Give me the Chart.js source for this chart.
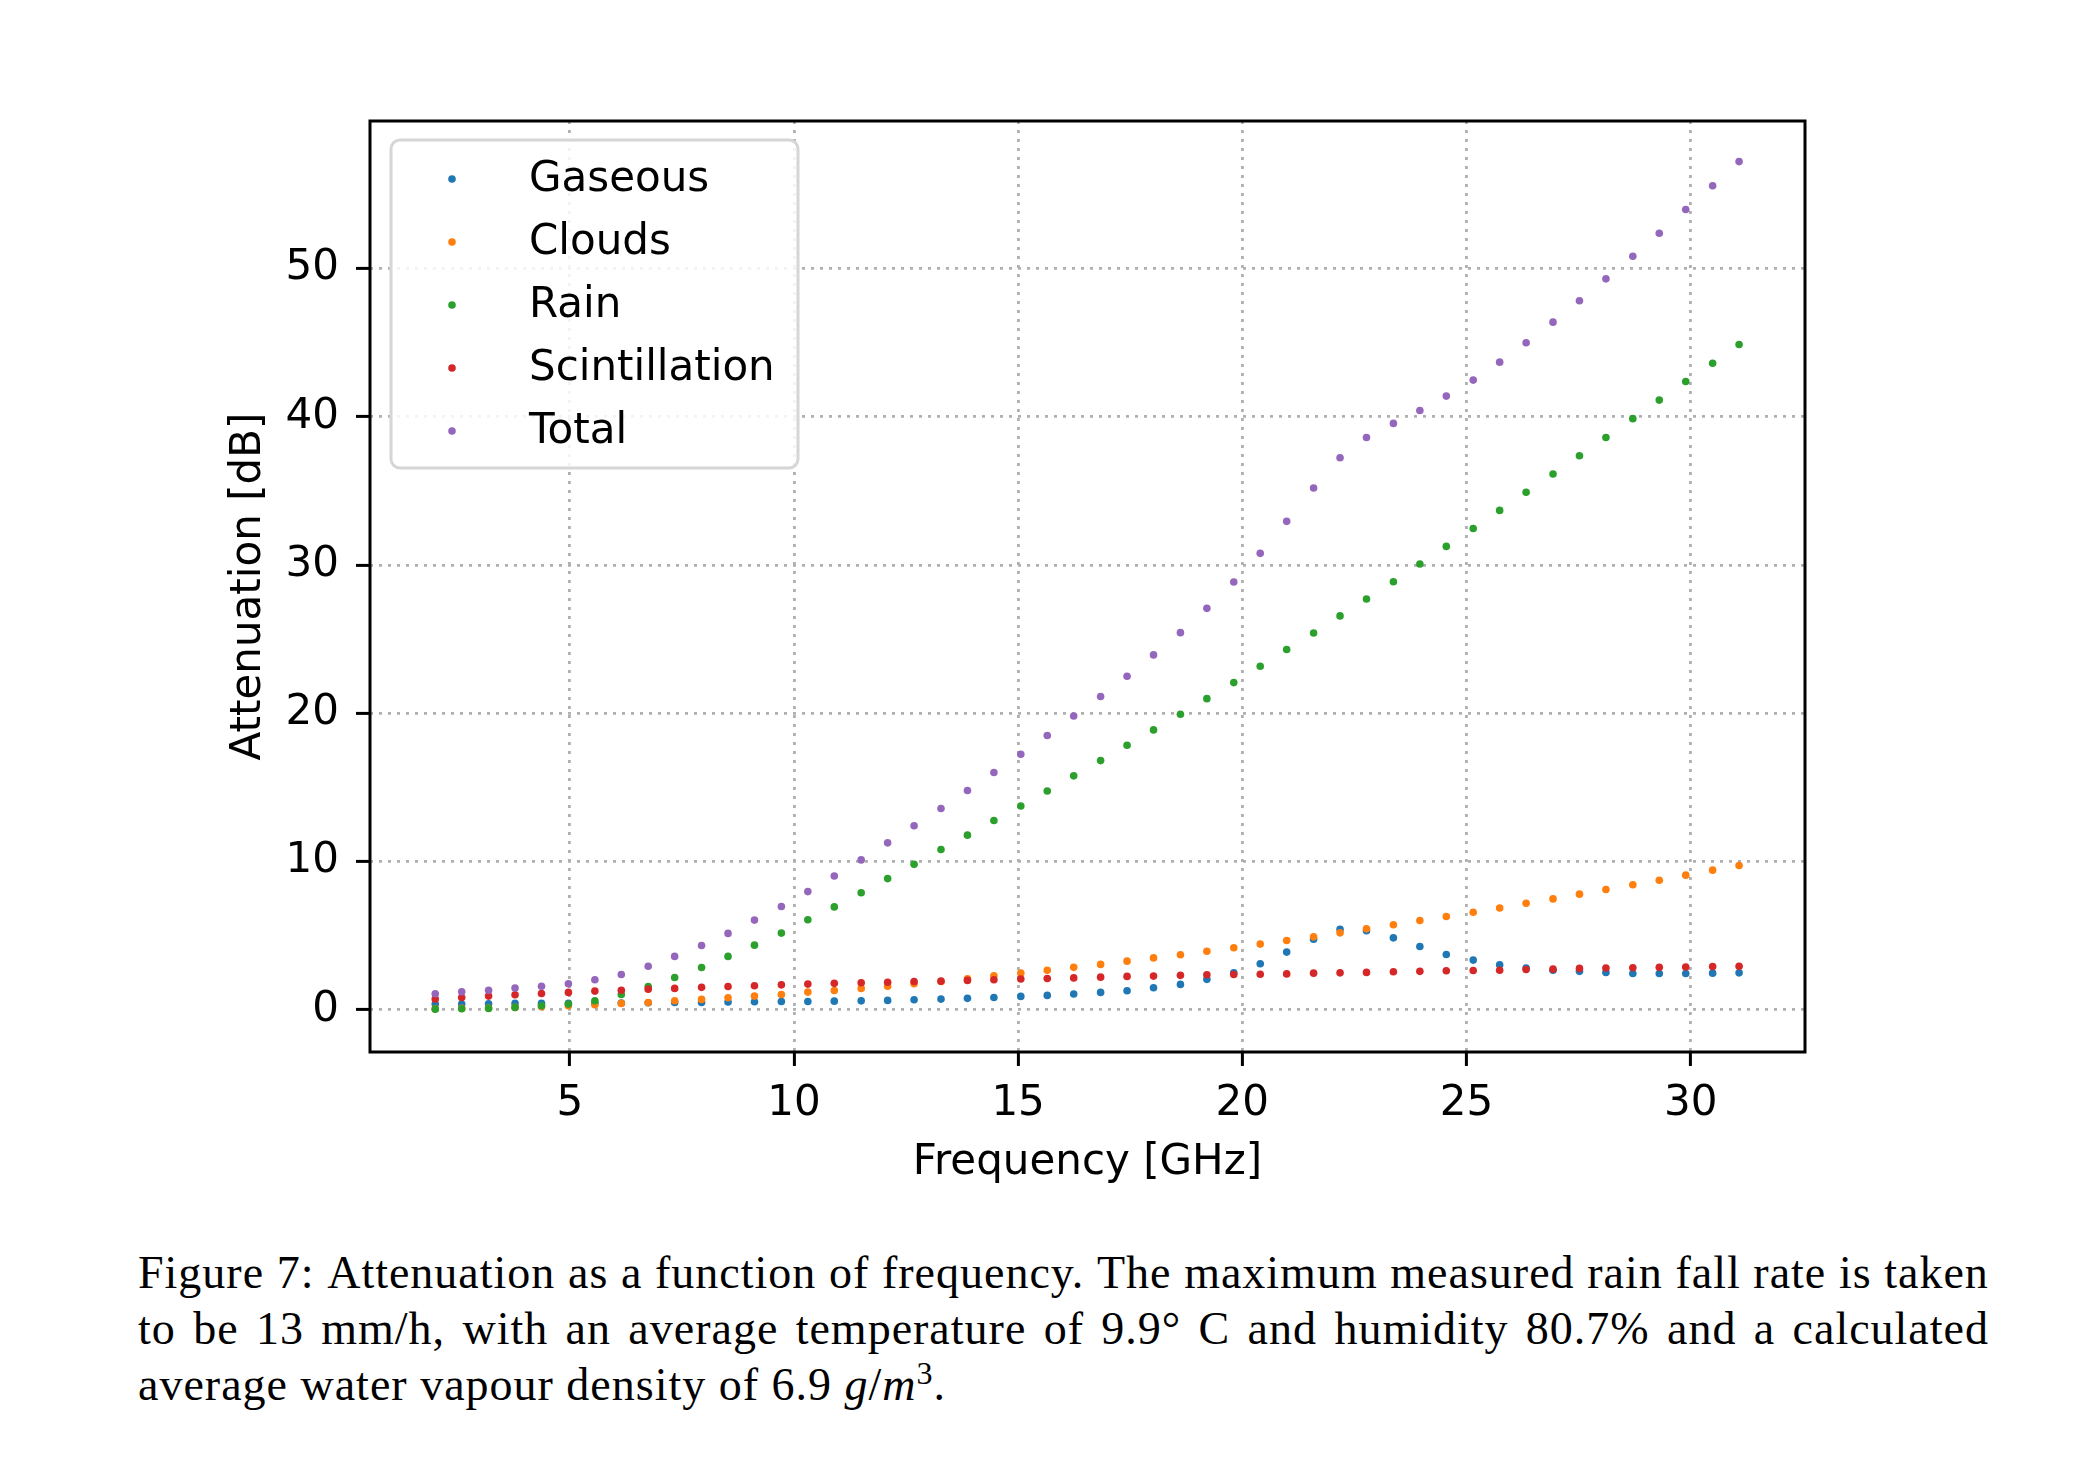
<!DOCTYPE html>
<html>
<head>
<meta charset="utf-8">
<script src="https://cdn.jsdelivr.net/npm/chart.js@4.4.0/dist/chart.umd.min.js"></script>
<style>
  html, body { margin: 0; padding: 0; background: #fff; }
  #wrap { position: relative; width: 2078px; height: 1462px; }
  #chart { position: absolute; left: 0; top: 0; }
  .caption { position: absolute; left: 138px; width: 1851px; top: 1245px;
             font-family: "Liberation Serif", serif; font-size: 46px; line-height: 56px;
             letter-spacing: 1px; color: #000; }
  .caption .jline { display: flex; justify-content: space-between; white-space: nowrap; }
  .caption .last { white-space: nowrap; }
  .caption sup { line-height: 0; font-size: 32px; }
</style>
</head>
<body>
<div id="wrap">
  <canvas id="chart" width="2078" height="1220"></canvas>
  <div class="caption">
    <div class="jline">Figure 7: Attenuation as a function of frequency. The maximum measured rain fall rate is taken</div>
    <div class="jline">to be 13 mm/h, with an average temperature of 9.9° C and humidity 80.7% and a calculated</div>
    <div class="last">average water vapour density of 6.9 <i>g</i>/<i>m</i><sup>3</sup>.</div>
  </div>
</div>
<script>
// frequency points [GHz]
const frequency = [2.00, 2.59, 3.19, 3.78, 4.37, 4.97, 5.56, 6.15, 6.75, 7.34,
                   7.94, 8.53, 9.12, 9.72, 10.31, 10.90, 11.50, 12.09, 12.68, 13.28,
                   13.87, 14.46, 15.06, 15.65, 16.24, 16.84, 17.43, 18.02, 18.62, 19.21,
                   19.81, 20.40, 20.99, 21.59, 22.18, 22.77, 23.37, 23.96, 24.55, 25.15,
                   25.74, 26.33, 26.93, 27.52, 28.11, 28.71, 29.30, 29.89, 30.49, 31.08];

// attenuation [dB]
const gaseous = [0.37, 0.37, 0.39, 0.42, 0.42, 0.42, 0.43, 0.44, 0.46, 0.48,
                 0.48, 0.51, 0.53, 0.55, 0.55, 0.57, 0.59, 0.62, 0.66, 0.71,
                 0.76, 0.82, 0.89, 0.96, 1.05, 1.16, 1.27, 1.47, 1.70, 2.04,
                 2.48, 3.09, 3.88, 4.75, 5.41, 5.32, 4.84, 4.26, 3.72, 3.34,
                 3.02, 2.80, 2.66, 2.58, 2.51, 2.44, 2.44, 2.44, 2.46, 2.48];
const clouds = [0.05, 0.08, 0.11, 0.15, 0.20, 0.26, 0.33, 0.42, 0.48, 0.60,
                0.69, 0.80, 0.91, 1.02, 1.18, 1.29, 1.43, 1.58, 1.74, 1.90,
                2.08, 2.28, 2.46, 2.66, 2.85, 3.05, 3.27, 3.49, 3.70, 3.94,
                4.17, 4.42, 4.66, 4.91, 5.18, 5.45, 5.72, 6.01, 6.28, 6.57,
                6.86, 7.18, 7.47, 7.79, 8.10, 8.42, 8.73, 9.07, 9.41, 9.72];
const rain = [0.03, 0.06, 0.08, 0.15, 0.26, 0.37, 0.59, 1.02, 1.56, 2.17,
              2.84, 3.59, 4.35, 5.16, 6.06, 6.93, 7.88, 8.84, 9.80, 10.80,
              11.77, 12.76, 13.74, 14.75, 15.77, 16.80, 17.83, 18.87, 19.93, 20.98,
              22.06, 23.16, 24.29, 25.41, 26.56, 27.70, 28.87, 30.06, 31.25, 32.46,
              33.68, 34.90, 36.13, 37.37, 38.60, 39.87, 41.12, 42.38, 43.61, 44.87];
const scintillation = [0.71, 0.82, 0.91, 1.00, 1.09, 1.16, 1.25, 1.31, 1.38, 1.43,
                       1.50, 1.56, 1.61, 1.67, 1.72, 1.77, 1.81, 1.85, 1.90, 1.92,
                       1.97, 2.01, 2.06, 2.10, 2.14, 2.19, 2.24, 2.26, 2.31, 2.35,
                       2.37, 2.39, 2.41, 2.46, 2.48, 2.51, 2.55, 2.58, 2.62, 2.64,
                       2.66, 2.71, 2.73, 2.78, 2.80, 2.82, 2.85, 2.87, 2.91, 2.93];
const total = [1.07, 1.20, 1.31, 1.45, 1.58, 1.74, 2.01, 2.37, 2.93, 3.59,
               4.33, 5.14, 6.04, 6.96, 7.96, 9.01, 10.10, 11.25, 12.40, 13.57,
               14.78, 16.00, 17.23, 18.49, 19.81, 21.12, 22.49, 23.93, 25.43, 27.07,
               28.85, 30.78, 32.94, 35.19, 37.23, 38.60, 39.55, 40.42, 41.39, 42.47,
               43.68, 44.99, 46.38, 47.82, 49.30, 50.83, 52.38, 53.98, 55.58, 57.21];

const seriesNames = ['Gaseous', 'Clouds', 'Rain', 'Scintillation', 'Total'];
const seriesColors = ['#1f77b4', '#ff7f0e', '#2ca02c', '#d62728', '#9467bd'];
const xTicks = [5, 10, 15, 20, 25, 30];
const yTicks = [0, 10, 20, 30, 40, 50];

const FONT = { family: 'DejaVu Sans', size: 42 };
const DOT = 3.8;

// justified caption lines: one span per word, spread by flexbox
document.querySelectorAll('.caption .jline').forEach(el => {
    const words = el.textContent.trim().split(/\s+/);
    el.innerHTML = words.map(w => '<span>' + w + '</span>').join('');
});

function toPoints(ys) {
    return frequency.map((f, i) => ({ x: f, y: ys[i] }));
}

const series = [gaseous, clouds, rain, scintillation, total];
const datasets = series.map((ys, i) => ({
    label: seriesNames[i],
    data: toPoints(ys),
    backgroundColor: seriesColors[i],
    borderWidth: 0,
    pointRadius: DOT,
    pointHoverRadius: DOT,
    order: series.length - 1 - i   // later series on top, like matplotlib
}));

// black frame round the plot area
const framePlugin = {
    id: 'frame',
    afterDatasetsDraw(chart) {
        const { ctx, chartArea: a } = chart;
        ctx.save();
        ctx.strokeStyle = '#000';
        ctx.lineWidth = 3;
        ctx.strokeRect(a.left, a.top, a.right - a.left, a.bottom - a.top);
        ctx.restore();
    }
};

// matplotlib style legend in the upper left corner
const legendPlugin = {
    id: 'innerLegend',
    afterDraw(chart) {
        const { ctx, chartArea: a } = chart;
        const x0 = a.left + 21, y0 = a.top + 19, w = 407, h = 328, r = 9;
        ctx.save();
        ctx.beginPath();
        ctx.roundRect(x0, y0, w, h, r);
        ctx.fillStyle = 'rgba(255,255,255,0.85)';
        ctx.fill();
        ctx.lineWidth = 3;
        ctx.strokeStyle = '#d6d6d6';
        ctx.stroke();
        ctx.font = FONT.size + 'px ' + FONT.family;
        ctx.textBaseline = 'alphabetic';
        ctx.textAlign = 'left';
        chart.data.datasets.forEach((ds, i) => {
            const cy = y0 + 39 + i * 63;
            ctx.beginPath();
            ctx.arc(x0 + 61, cy, DOT, 0, Math.PI * 2);
            ctx.fillStyle = ds.backgroundColor;
            ctx.fill();
            ctx.fillStyle = '#000';
            ctx.fillText(ds.label, x0 + 138, cy + 11.5);
        });
        ctx.restore();
    }
};

const gridOpts = {
    color: '#b0b0b0',
    lineWidth: 2.8,
    drawTicks: true,
    tickLength: 14,
    tickColor: '#000',
    tickWidth: 3,
    tickBorderDash: []
};

new Chart(document.getElementById('chart'), {
    type: 'scatter',
    data: { datasets: datasets },
    plugins: [framePlugin, legendPlugin],
    options: {
        responsive: false,
        animation: false,
        events: [],
        layout: { padding: { top: 121, right: 273, left: 0, bottom: 0 } },
        plugins: { legend: { display: false }, tooltip: { enabled: false } },
        scales: {
            x: {
                type: 'linear',
                min: 0.545,
                max: 32.55,
                afterBuildTicks(scale) { scale.ticks = xTicks.map(v => ({ value: v })); },
                afterFit(scale) { scale.height = 168; },
                grid: gridOpts,
                border: { display: false, dash: [3, 6] },
                ticks: { font: FONT, color: '#000', padding: 13, maxRotation: 0, autoSkip: false },
                title: { display: true, text: 'Frequency [GHz]', font: FONT, color: '#000',
                         padding: { top: 0, bottom: 32 } }
            },
            y: {
                type: 'linear',
                min: -2.86,
                max: 59.95,
                afterBuildTicks(scale) { scale.ticks = yTicks.map(v => ({ value: v })); },
                afterFit(scale) { scale.width = 370; },
                grid: gridOpts,
                border: { display: false, dash: [3, 6] },
                ticks: { font: FONT, color: '#000', padding: 17, autoSkip: false },
                title: { display: true, text: 'Attenuation [dB]', font: FONT, color: '#000',
                         padding: { top: 224, bottom: 0 } }
            }
        }
    }
});
</script>
</body>
</html>
